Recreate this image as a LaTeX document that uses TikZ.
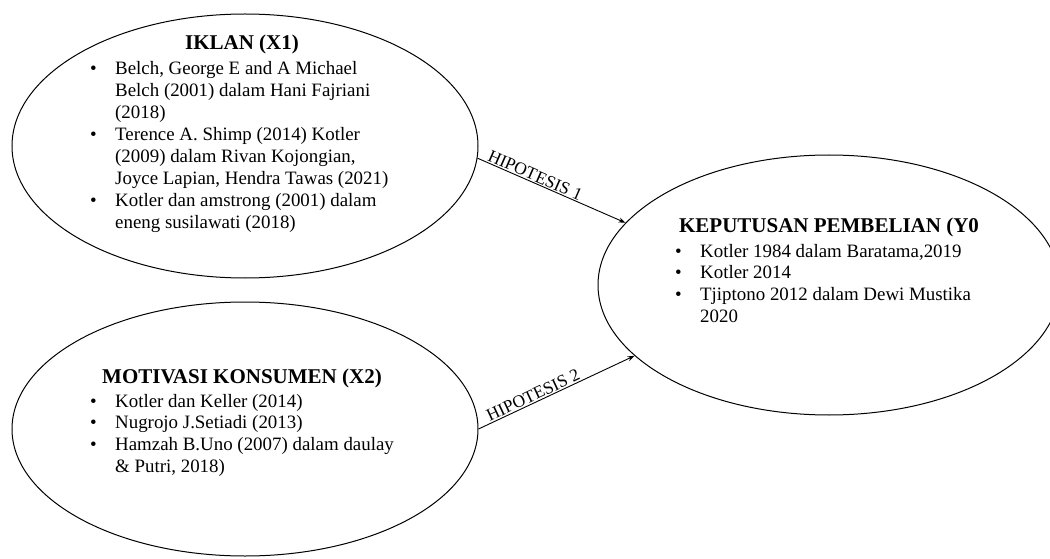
\documentclass[tikz,border=0pt]{standalone}
\usepackage{fontspec}
\setmainfont{Liberation Serif}
\usetikzlibrary{shapes.geometric,arrows.meta}

\begin{document}
\begin{tikzpicture} [
	   x=1pt, y=1pt,
	   elips/.style = { ellipse, draw=black, line width=1pt, inner sep=0pt },
	   judul/.style = { anchor=base, inner sep=0pt, font=\fontsize{21}{25}\selectfont\bfseries },
	   isi/.style   = { anchor=base west, inner sep=0pt, align=left, font=\fontsize{18.9}{21.9}\selectfont },
	   hipo/.style  = { sloped, above, inner sep=1pt, font=\fontsize{17.5}{20}\selectfont },
	   line/.style  = { draw, line width=0.9pt, -{Stealth[length=7pt,width=5pt]} },
	 ]
	  \useasboundingbox (0,0) rectangle (1050,558);

	  % Define the three ellipses
	  \node [elips, minimum width=466, minimum height=264] (iklan) at (245,412) {};
	  \node [elips, minimum width=466, minimum height=254] (motivasi) at (245,129) {};
	  \node [elips, minimum width=462, minimum height=260] (keputusan) at (829,273) {};

	  % Texts inside the ellipses
	  \node [judul] (iklanjudul) at (242,508) {IKLAN (X1)};
	  \node [isi] (iklanisi) at (90,483) {\begin{tabular}[t]{@{}p{25pt}@{}l@{}}
	  	\textbullet & Belch, George E and A Michael\\
	  	 & Belch (2001) dalam Hani Fajriani\\
	  	 & (2018)\\
	  	\textbullet & Terence A. Shimp (2014) Kotler\\
	  	 & (2009) dalam Rivan Kojongian,\\
	  	 & Joyce Lapian, Hendra Tawas (2021)\\
	  	\textbullet & Kotler dan amstrong (2001) dalam\\
	  	 & eneng susilawati (2018)
	  \end{tabular}};

	  \node [judul] (motivasijudul) at (242,175) {MOTIVASI KONSUMEN (X2)};
	  \node [isi] (motivasiisi) at (90,151) {\begin{tabular}[t]{@{}p{25pt}@{}l@{}}
	  	\textbullet & Kotler dan Keller (2014)\\
	  	\textbullet & Nugrojo J.Setiadi (2013)\\
	  	\textbullet & Hamzah B.Uno (2007) dalam daulay\\
	  	 & \& Putri, 2018)
	  \end{tabular}};

	  \node [judul] (keputusanjudul) at (829,325) {KEPUTUSAN PEMBELIAN (Y0};
	  \node [isi] (keputusanisi) at (675,301) {\begin{tabular}[t]{@{}p{25pt}@{}l@{}}
	  	\textbullet & Kotler 1984 dalam Baratama,2019\\
	  	\textbullet & Kotler 2014\\
	  	\textbullet & Tjiptono 2012 dalam Dewi Mustika\\
	  	 & 2020
	  \end{tabular}};

	  % connect the ellipses
	  \begin{scope} [every path/.style=line]
		\path (iklan.-3) -- node [hipo, pos=0.37] (hipo1) {HIPOTESIS 1} (keputusan.163);
		\path (motivasi.east) -- node [hipo, pos=0.37] (hipo2) {HIPOTESIS 2} (keputusan.200);
	  \end{scope}
	\end{tikzpicture}
\end{document}
